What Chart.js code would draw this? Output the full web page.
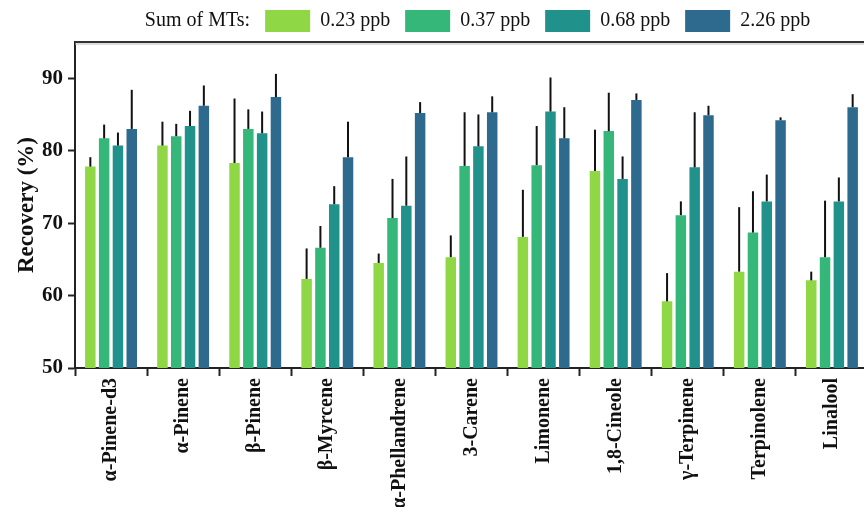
<!DOCTYPE html>
<html>
<head>
<meta charset="utf-8">
<script src="https://cdn.jsdelivr.net/npm/chart.js@4.4.0/dist/chart.umd.min.js"></script>
<style>
  html, body { margin:0; padding:0; background:#fff; overflow:hidden; }
  #wrap { width:868px; height:507px; }
</style>
</head>
<body>
<div id="wrap"><canvas id="chartRecovery" width="868" height="507"></canvas></div>
<script>
const compounds = ["α-Pinene-d3","α-Pinene","β-Pinene","β-Myrcene","α-Phellandrene","3-Carene",
  "Limonene","1,8-Cineole","γ-Terpinene","Terpinolene","Linalool"];
const seriesNames = ["0.23 ppb","0.37 ppb","0.68 ppb","2.26 ppb"];
const seriesColors = ["#8fd744","#35b779","#21918c","#2e6a8e"];

// mean recovery (%)
const rec023 = [77.8,80.7,78.3,62.3,64.5,65.3,68.1,77.2,59.2,63.3,62.1];
const rec037 = [81.7,82.0,83.0,66.6,70.7,77.9,78.0,82.7,71.1,68.7,65.3];
const rec068 = [80.7,83.4,82.4,72.6,72.4,80.6,85.4,76.1,77.7,73.0,73.0];
const rec226 = [83.0,86.2,87.4,79.1,85.2,85.3,81.7,87.0,84.9,84.2,86.0];
// upper error (sd)
const err023 = [1.3,3.3,8.9,4.2,1.3,3.0,6.5,5.7,3.9,8.9,1.2];
const err037 = [1.9,1.7,2.7,3.0,5.4,7.4,5.4,5.3,1.9,5.7,7.8];
const err068 = [1.8,2.1,3.0,2.5,6.8,4.4,4.7,3.1,7.6,3.7,3.3];
const err226 = [5.4,2.8,3.2,4.9,1.5,2.2,4.3,0.9,1.3,0.4,1.8];

const yTicks = [50,60,70,80,90];
const legendLead = "Sum of MTs:";

const recs = [rec023, rec037, rec068, rec226];
const errs = [err023, err037, err068, err226];

Chart.defaults.font.family = "'Liberation Serif', 'Times New Roman', serif";
Chart.defaults.color = "#111";

// upward-only error whiskers
const errorBars = {
  id: "errorBars",
  afterDatasetsDraw(chart) {
    const {ctx, scales:{y}} = chart;
    ctx.save();
    ctx.strokeStyle = "#111";
    ctx.lineWidth = 2;
    chart.data.datasets.forEach((ds, di) => {
      chart.getDatasetMeta(di).data.forEach((bar, i) => {
        const top = y.getPixelForValue(ds.data[i] + ds.errUp[i]);
        ctx.beginPath();
        ctx.moveTo(bar.x, bar.y);
        ctx.lineTo(bar.x, top);
        ctx.stroke();
      });
    });
    ctx.restore();
  }
};

const frameTop = {
  id: "frameTop",
  afterDraw(chart) {
    const {ctx, chartArea:a} = chart;
    ctx.save();
    ctx.strokeStyle = "#bbb";
    ctx.lineWidth = 1;
    ctx.beginPath(); ctx.moveTo(a.left, a.top + 2); ctx.lineTo(a.right, a.top + 2); ctx.stroke();
    ctx.strokeStyle = "#333";
    ctx.lineWidth = 2;
    ctx.beginPath(); ctx.moveTo(a.left, a.top); ctx.lineTo(a.right, a.top); ctx.stroke();
    ctx.restore();
  }
};

const legendNudge = {
  id: "legendNudge",
  afterLayout(chart) {
    chart.legend.left += 16;
    chart.legend.right += 16;
  }
};

new Chart(chartRecovery, {
  type: "bar",
  data: {
    labels: compounds,
    datasets: recs.map((r, k) => ({
      label: seriesNames[k],
      data: r,
      errUp: errs[k],
      backgroundColor: seriesColors[k],
      borderWidth: 0,
      categoryPercentage: 0.766,
      barPercentage: 0.76
    }))
  },
  options: {
    responsive: false,
    animation: false,
    layout: { padding: { top: -5, left: 0, right: 0, bottom: 0 } },
    plugins: {
      tooltip: { enabled: false },
      legend: {
        position: "top",
        onClick: null,
        labels: {
          boxWidth: 45,
          boxHeight: 22,
          padding: 15,
          font: { size: 20 },
          color: "#111",
          generateLabels(chart) {
            const items = Chart.defaults.plugins.legend.labels.generateLabels(chart);
            items.forEach(it => { it.lineWidth = 0; it.strokeStyle = "rgba(0,0,0,0)"; });
            items.unshift({ text: legendLead, fillStyle: "rgba(0,0,0,0)", strokeStyle: "rgba(0,0,0,0)",
              lineWidth: 0, hidden: false, datasetIndex: -1, fontColor: "#111" });
            return items;
          }
        }
      }
    },
    scales: {
      x: {
        grid: { offset: true, drawOnChartArea: false, tickLength: 8, tickWidth: 2, tickColor: "#222" },
        border: { color: "#222", width: 2 },
        ticks: { maxRotation: 90, minRotation: 90, padding: 2, autoSkip: false,
                 font: { size: 20, weight: "bold" }, color: "#111" },
        afterFit(scale) { scale.height = 139; }
      },
      y: {
        min: 50,
        max: 95,
        afterBuildTicks(scale) { scale.ticks = yTicks.map(v => ({ value: v })); },
        grid: { drawOnChartArea: false, tickLength: 7, tickWidth: 2, tickColor: "#222" },
        border: { color: "#222", width: 2 },
        ticks: { padding: 5, font: { size: 21, weight: "bold" }, color: "#111" },
        title: { display: true, text: "Recovery (%)", padding: { top: 13, bottom: 0 },
                 font: { size: 23, weight: "bold" }, color: "#111" },
        afterFit(scale) { scale.width = 75; }
      }
    }
  },
  plugins: [errorBars, frameTop, legendNudge]
});
</script>
</body>
</html>
